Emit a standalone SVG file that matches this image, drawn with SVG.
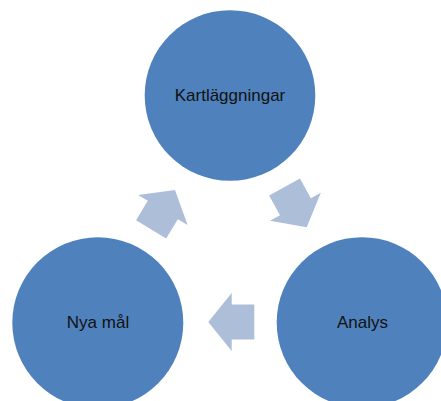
<svg xmlns="http://www.w3.org/2000/svg" xmlns:xlink="http://www.w3.org/1999/xlink" width="441" height="401" viewBox="0 0 441 401">
<style>
.node{fill:#4f81bd;}
.lbl{font-family:"Liberation Sans",Arial,sans-serif;font-size:17px;fill:#111;text-anchor:middle;}
.arr{fill:#adbed9;}
</style>
<defs>
<polygon id="blockArrow" points="0,0 -23.4,-29 -23.4,-17.6 -46,-17.6 -46,17.6 -23.4,17.6 -23.4,29"/>
</defs>
<rect width="441" height="401" fill="#fff"/>
<g id="connectors">
<use xlink:href="#blockArrow" class="arr" transform="translate(306.7,227.3) rotate(61.2)"/>
<use xlink:href="#blockArrow" class="arr" transform="translate(208.3,322) rotate(180)"/>
<use xlink:href="#blockArrow" class="arr" transform="translate(175,190) rotate(-58.7)"/>
</g>
<g id="kartlaggningar">
<circle class="node" cx="230" cy="95.5" r="85.3"/>
<text class="lbl" x="230" y="101">Kartläggningar</text>
</g>
<g id="analys">
<circle class="node" cx="362" cy="322.5" r="85.3"/>
<text class="lbl" x="362.5" y="328">Analys</text>
</g>
<g id="nya-mal">
<circle class="node" cx="97.8" cy="322.8" r="85.5"/>
<text class="lbl" x="98" y="328">Nya mål</text>
</g>
</svg>
